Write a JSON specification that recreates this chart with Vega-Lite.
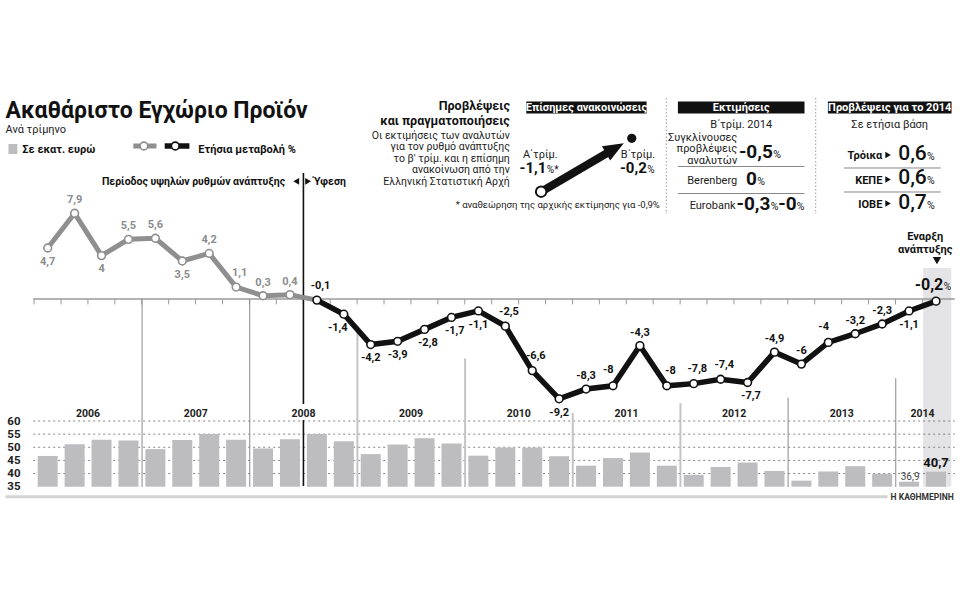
{
  "$schema": "https://vega.github.io/schema/vega-lite/v6.json",
  "width": 960,
  "height": 600,
  "autosize": "none",
  "padding": 0,
  "background": "white",
  "config": {
    "view": {"stroke": null},
    "font": "Roboto",
    "axis": {"domain": false, "ticks": false, "labels": false, "grid": false, "titleColor": "transparent", "titleFontSize": 1},
    "locale": {"number": {"decimal": ",", "thousands": ".", "grouping": [3], "currency": ["", " €"], "minus": "-"}}
  },
  "data": {
    "values": [
      {"i": 0, "year": "2006", "q": "Q1", "growth": 4.7, "gdp": 46.7},
      {"i": 1, "year": "2006", "q": "Q2", "growth": 7.9, "gdp": 51.2},
      {"i": 2, "year": "2006", "q": "Q3", "growth": 4, "gdp": 52.9},
      {"i": 3, "year": "2006", "q": "Q4", "growth": 5.5, "gdp": 52.6},
      {"i": 4, "year": "2007", "q": "Q1", "growth": 5.6, "gdp": 49.3},
      {"i": 5, "year": "2007", "q": "Q2", "growth": 3.5, "gdp": 52.8},
      {"i": 6, "year": "2007", "q": "Q3", "growth": 4.2, "gdp": 55.1},
      {"i": 7, "year": "2007", "q": "Q4", "growth": 1.1, "gdp": 52.9},
      {"i": 8, "year": "2008", "q": "Q1", "growth": 0.3, "gdp": 49.5},
      {"i": 9, "year": "2008", "q": "Q2", "growth": 0.4, "gdp": 53.1},
      {"i": 10, "year": "2008", "q": "Q3", "growth": -0.1, "gdp": 55.1},
      {"i": 11, "year": "2008", "q": "Q4", "growth": -1.4, "gdp": 52.3},
      {"i": 12, "year": "2009", "q": "Q1", "growth": -4.2, "gdp": 47.4},
      {"i": 13, "year": "2009", "q": "Q2", "growth": -3.9, "gdp": 51.1},
      {"i": 14, "year": "2009", "q": "Q3", "growth": -2.8, "gdp": 53.4},
      {"i": 15, "year": "2009", "q": "Q4", "growth": -1.7, "gdp": 51.4},
      {"i": 16, "year": "2010", "q": "Q1", "growth": -1.1, "gdp": 46.8},
      {"i": 17, "year": "2010", "q": "Q2", "growth": -2.5, "gdp": 49.9},
      {"i": 18, "year": "2010", "q": "Q3", "growth": -6.6, "gdp": 49.9},
      {"i": 19, "year": "2010", "q": "Q4", "growth": -9.2, "gdp": 46.6},
      {"i": 20, "year": "2011", "q": "Q1", "growth": -8.3, "gdp": 43.0},
      {"i": 21, "year": "2011", "q": "Q2", "growth": -8, "gdp": 45.9},
      {"i": 22, "year": "2011", "q": "Q3", "growth": -4.3, "gdp": 48.0},
      {"i": 23, "year": "2011", "q": "Q4", "growth": -8, "gdp": 43.0},
      {"i": 24, "year": "2012", "q": "Q1", "growth": -7.8, "gdp": 39.5},
      {"i": 25, "year": "2012", "q": "Q2", "growth": -7.4, "gdp": 42.5},
      {"i": 26, "year": "2012", "q": "Q3", "growth": -7.7, "gdp": 44.2},
      {"i": 27, "year": "2012", "q": "Q4", "growth": -4.9, "gdp": 41.0},
      {"i": 28, "year": "2013", "q": "Q1", "growth": -6, "gdp": 37.3},
      {"i": 29, "year": "2013", "q": "Q2", "growth": -4, "gdp": 40.8},
      {"i": 30, "year": "2013", "q": "Q3", "growth": -3.2, "gdp": 42.8},
      {"i": 31, "year": "2013", "q": "Q4", "growth": -2.3, "gdp": 39.9},
      {"i": 32, "year": "2014", "q": "Q1", "growth": -1.1, "gdp": 36.9},
      {"i": 33, "year": "2014", "q": "Q2", "growth": -0.2, "gdp": 40.7}
    ]
  },
  "layer": [
    {
      "layer": [
        {
          "data": {"values": [{}]},
          "mark": {"type": "rect", "color": "#e4e4e6"},
          "encoding": {
            "x": {"datum": 32.522, "type": "quantitative", "scale": {"domain": [0, 33], "range": [42.7, 941], "nice": false, "zero": false}, "axis": {"title": null}},
            "x2": {"datum": 33.569},
            "y": {"datum": 35, "type": "quantitative", "scale": {"domain": [35, 60], "range": [486.7, 421], "nice": false, "zero": false}},
            "y2": {"datum": 118.22}
          }
        },
        {
          "data": {"values": [{"v": 40}, {"v": 45}, {"v": 50}, {"v": 55}, {"v": 60}]},
          "mark": {"type": "rule", "color": "#666666", "strokeWidth": 0.8, "strokeDash": [2, 3]},
          "encoding": {
            "x": {"datum": -0.54},
            "x2": {"datum": 33.699},
            "y": {"field": "v", "type": "quantitative", "title": null}
          }
        },
        {
          "mark": {"type": "bar", "color": "#bdbdc0", "width": 20},
          "encoding": {
            "x": {"field": "i", "type": "quantitative", "title": null},
            "y": {"field": "gdp", "type": "quantitative", "title": null, "axis": {"orient": "left", "offset": -21, "labels": true, "values": [35, 40, 45, 50, 55, 60], "format": "d", "labelFontSize": 11.5, "labelFontWeight": "bold", "labelColor": "#222222", "labelPadding": 1, "labelOverlap": false, "labelFlush": false, "title": null}},
            "y2": {"datum": 35}
          }
        },
        {
          "transform": [{"filter": "datum.i == 32"}],
          "mark": {"type": "text", "fontSize": 10, "color": "#444444", "baseline": "alphabetic", "dy": -2, "dx": 1},
          "encoding": {
            "x": {"field": "i", "type": "quantitative", "title": null},
            "y": {"field": "gdp", "type": "quantitative", "title": null},
            "text": {"field": "gdp", "type": "quantitative", "format": "~g"}
          }
        },
        {
          "transform": [{"filter": "datum.i == 33"}],
          "mark": {"type": "text", "fontSize": 13, "fontWeight": "bold", "color": "#111111", "baseline": "alphabetic", "dy": -4.5},
          "encoding": {
            "x": {"field": "i", "type": "quantitative", "title": null},
            "y": {"field": "gdp", "type": "quantitative", "title": null},
            "text": {"field": "gdp", "type": "quantitative", "format": "~g"}
          }
        },
        {
          "transform": [{"aggregate": [{"op": "mean", "field": "i", "as": "mid"}], "groupby": ["year"]}],
          "mark": {"type": "text", "fontSize": 10.5, "fontWeight": "bold", "color": "#222222", "baseline": "alphabetic"},
          "encoding": {
            "x": {"field": "mid", "type": "quantitative", "title": null},
            "y": {"datum": 61.4},
            "text": {"field": "year", "type": "nominal"}
          }
        }
      ]
    },
    {
      "layer": [
        {
          "data": {"values": [{}]},
          "mark": {"type": "rule", "color": "#9a9a9a", "strokeWidth": 1.5},
          "encoding": {
            "x": {"datum": -0.54, "type": "quantitative", "scale": {"domain": [0, 33], "range": [42.7, 941], "nice": false, "zero": false}, "axis": {"title": null}},
            "x2": {"datum": 33.699},
            "y": {"datum": 0, "type": "quantitative", "scale": {"domain": [-10, 10], "range": [407.5, 190.5], "nice": false, "zero": false}, "axis": {"title": null}}
          }
        },
        {
          "mark": {"type": "rule", "color": "#9a9a9a", "strokeWidth": 1, "xOffset": -13.61},
          "encoding": {
            "x": {"field": "i", "type": "quantitative", "title": null},
            "y": {"datum": 0},
            "y2": {"datum": -0.5}
          }
        },
        {
          "transform": [
            {"filter": {"field": "year", "oneOf": ["2006", "2007"]}},
            {"aggregate": [{"op": "max", "field": "i", "as": "last"}], "groupby": ["year"]}
          ],
          "mark": {"type": "rule", "color": "#8a8a8a", "strokeWidth": 1, "xOffset": 13.61},
          "encoding": {
            "x": {"field": "last", "type": "quantitative", "title": null},
            "y": {"datum": 0},
            "y2": {"datum": -17.33}
          }
        },
        {
          "transform": [
            {"filter": {"field": "year", "oneOf": ["2008", "2009", "2010", "2011"]}},
            {"aggregate": [{"op": "max", "field": "i", "as": "last"}, {"op": "min", "field": "growth", "as": "low"}], "groupby": ["year"]}
          ],
          "mark": {"type": "rule", "color": "#c4c4c4", "strokeWidth": 2, "xOffset": 13.61, "yOffset": 14},
          "encoding": {
            "x": {"field": "last", "type": "quantitative", "title": null},
            "y": {"field": "low", "type": "quantitative", "title": null},
            "y2": {"datum": -17.33}
          }
        },
        {
          "transform": [
            {"filter": {"field": "year", "oneOf": ["2012", "2013"]}},
            {"aggregate": [{"op": "max", "field": "i", "as": "last"}, {"op": "min", "field": "growth", "as": "low"}], "groupby": ["year"]}
          ],
          "mark": {"type": "rule", "color": "#8a8a8a", "strokeWidth": 1, "xOffset": 13.61, "yOffset": 14},
          "encoding": {
            "x": {"field": "last", "type": "quantitative", "title": null},
            "y": {"field": "low", "type": "quantitative", "title": null},
            "y2": {"datum": -17.33}
          }
        },
        {
          "data": {"values": [{}]},
          "mark": {"type": "rule", "color": "#111111", "strokeWidth": 1.6},
          "encoding": {"x": {"datum": 9.5}, "y": {"datum": 11.613}, "y2": {"datum": -9.677}}
        },
        {
          "data": {"values": [{}]},
          "mark": {"type": "rule", "color": "#111111", "strokeWidth": 1.6},
          "encoding": {"x": {"datum": 9.5}, "y": {"datum": -11.152}, "y2": {"datum": -17.235}}
        },
        {
          "transform": [{"filter": "datum.i <= 10"}],
          "mark": {"type": "line", "color": "#8f8f8f", "strokeWidth": 5},
          "encoding": {"x": {"field": "i", "type": "quantitative", "title": null}, "y": {"field": "growth", "type": "quantitative", "title": null}}
        },
        {
          "transform": [{"filter": "datum.i >= 10"}],
          "mark": {"type": "line", "color": "#111111", "strokeWidth": 5.5},
          "encoding": {"x": {"field": "i", "type": "quantitative", "title": null}, "y": {"field": "growth", "type": "quantitative", "title": null}}
        },
        {
          "mark": {"type": "circle", "fill": "white", "fillOpacity": 1, "opacity": 1, "strokeWidth": 1.6, "size": 60},
          "encoding": {
            "x": {"field": "i", "type": "quantitative", "title": null},
            "y": {"field": "growth", "type": "quantitative", "title": null},
            "stroke": {"condition": {"test": "datum.i <= 9", "value": "#8f8f8f"}, "value": "#111111"}
          }
        },
        {
          "transform": [{"filter": {"field": "i", "oneOf": [1, 3, 4, 6, 8, 9, 20, 22, 27, 28, 30, 31]}}],
          "mark": {"type": "text", "fontSize": 11, "fontWeight": "bold", "baseline": "middle", "dy": -13},
          "encoding": {
            "x": {"field": "i", "type": "quantitative", "title": null},
            "y": {"field": "growth", "type": "quantitative", "title": null},
            "text": {"field": "growth", "type": "quantitative", "format": "~g"},
            "color": {"condition": {"test": "datum.i <= 9", "value": "#8c8c8c"}, "value": "#111111"}
          }
        },
        {
          "transform": [{"filter": {"field": "i", "oneOf": [7, 10, 17, 18, 23, 24, 25]}}],
          "mark": {"type": "text", "fontSize": 11, "fontWeight": "bold", "baseline": "middle", "dx": 3.6, "dy": -14.5},
          "encoding": {
            "x": {"field": "i", "type": "quantitative", "title": null},
            "y": {"field": "growth", "type": "quantitative", "title": null},
            "text": {"field": "growth", "type": "quantitative", "format": "~g"},
            "color": {"condition": {"test": "datum.i <= 9", "value": "#8c8c8c"}, "value": "#111111"}
          }
        },
        {
          "transform": [{"filter": {"field": "i", "oneOf": [21, 29]}}],
          "mark": {"type": "text", "fontSize": 11, "fontWeight": "bold", "baseline": "middle", "dx": -4.7, "dy": -15.7},
          "encoding": {
            "x": {"field": "i", "type": "quantitative", "title": null},
            "y": {"field": "growth", "type": "quantitative", "title": null},
            "text": {"field": "growth", "type": "quantitative", "format": "~g"},
            "color": {"value": "#111111"}
          }
        },
        {
          "transform": [{"filter": {"field": "i", "oneOf": [0, 2, 5, 12, 13, 16, 19, 32]}}],
          "mark": {"type": "text", "fontSize": 11, "fontWeight": "bold", "baseline": "middle", "dy": 13.7},
          "encoding": {
            "x": {"field": "i", "type": "quantitative", "title": null},
            "y": {"field": "growth", "type": "quantitative", "title": null},
            "text": {"field": "growth", "type": "quantitative", "format": "~g"},
            "color": {"condition": {"test": "datum.i <= 9", "value": "#8c8c8c"}, "value": "#111111"}
          }
        },
        {
          "transform": [{"filter": {"field": "i", "oneOf": [14, 15, 26]}}],
          "mark": {"type": "text", "fontSize": 11, "fontWeight": "bold", "baseline": "middle", "dx": 3.3, "dy": 13.2},
          "encoding": {
            "x": {"field": "i", "type": "quantitative", "title": null},
            "y": {"field": "growth", "type": "quantitative", "title": null},
            "text": {"field": "growth", "type": "quantitative", "format": "~g"},
            "color": {"value": "#111111"}
          }
        },
        {
          "transform": [{"filter": {"field": "i", "oneOf": [11]}}],
          "mark": {"type": "text", "fontSize": 11, "fontWeight": "bold", "baseline": "middle", "dx": -6, "dy": 14},
          "encoding": {
            "x": {"field": "i", "type": "quantitative", "title": null},
            "y": {"field": "growth", "type": "quantitative", "title": null},
            "text": {"field": "growth", "type": "quantitative", "format": "~g"},
            "color": {"value": "#111111"}
          }
        },
        {
          "transform": [{"filter": "datum.i == 33"}],
          "mark": {"type": "text", "fontSize": 16, "fontWeight": "bold", "align": "right", "baseline": "alphabetic", "dx": 7.3, "dy": -11.2, "color": "#111111"},
          "encoding": {
            "x": {"field": "i", "type": "quantitative", "title": null},
            "y": {"field": "growth", "type": "quantitative", "title": null},
            "text": {"field": "growth", "type": "quantitative", "format": "~g"}
          }
        },
        {"data": {"values": [{}]}, "mark": {"type": "text", "text": "%", "align": "left", "baseline": "alphabetic", "fontSize": 10, "color": "#111111"}, "encoding": {"x": {"datum": 33.287}, "y": {"datum": 0.829}}},

        {"data": {"values": [{}]}, "mark": {"type": "text", "text": "Ακαθάριστο Εγχώριο Προϊόν", "align": "left", "baseline": "alphabetic", "fontSize": 23, "fontWeight": "bold", "color": "#111111"}, "encoding": {"x": {"datum": -1.5686}, "y": {"datum": 16.682}}},
        {"data": {"values": [{}]}, "mark": {"type": "text", "text": "Ανά τρίμηνο", "align": "left", "baseline": "alphabetic", "fontSize": 11, "color": "#222222"}, "encoding": {"x": {"datum": -1.5686}, "y": {"datum": 15.3}}},
        {"data": {"values": [{}]}, "mark": {"type": "rect", "color": "#bdbdc0"}, "encoding": {"x": {"datum": -1.4584}, "x2": {"datum": -1.1278}, "y": {"datum": 14.286}, "y2": {"datum": 13.364}}},
        {"data": {"values": [{}]}, "mark": {"type": "text", "text": "Σε εκατ. ευρώ", "align": "left", "baseline": "alphabetic", "fontSize": 11, "fontWeight": "bold", "color": "#111111"}, "encoding": {"x": {"datum": -0.9441}, "y": {"datum": 13.456}}},
        {"data": {"values": [{}]}, "mark": {"type": "rule", "color": "#8f8f8f", "strokeWidth": 5}, "encoding": {"x": {"datum": 3.181}, "x2": {"datum": 4.041}, "y": {"datum": 14.101}}},
        {"data": {"values": [{}]}, "mark": {"type": "circle", "fill": "white", "fillOpacity": 1, "stroke": "#8f8f8f", "strokeWidth": 1.6, "size": 60}, "encoding": {"x": {"datum": 3.574}, "y": {"datum": 14.101}}},
        {"data": {"values": [{}]}, "mark": {"type": "rule", "color": "#111111", "strokeWidth": 5.5}, "encoding": {"x": {"datum": 4.346}, "x2": {"datum": 5.265}, "y": {"datum": 14.101}}},
        {"data": {"values": [{}]}, "mark": {"type": "circle", "fill": "white", "fillOpacity": 1, "stroke": "#111111", "strokeWidth": 1.6, "size": 60}, "encoding": {"x": {"datum": 4.739}, "y": {"datum": 14.101}}},
        {"data": {"values": [{}]}, "mark": {"type": "text", "text": "Ετήσια μεταβολή %", "align": "left", "baseline": "alphabetic", "fontSize": 11, "fontWeight": "bold", "color": "#111111"}, "encoding": {"x": {"datum": 5.595}, "y": {"datum": 13.456}}},
        {"data": {"values": [{}]}, "mark": {"type": "text", "text": "Περίοδος υψηλών ρυθμών ανάπτυξης", "align": "right", "baseline": "alphabetic", "fontSize": 10.5, "fontWeight": "bold", "color": "#111111"}, "encoding": {"x": {"datum": 8.817}, "y": {"datum": 10.507}}},
        {"data": {"values": [{}]}, "mark": {"type": "point", "shape": "triangle-left", "filled": true, "color": "#111111", "size": 45, "opacity": 1}, "encoding": {"x": {"datum": 9.232}, "y": {"datum": 10.848}}},
        {"data": {"values": [{}]}, "mark": {"type": "point", "shape": "triangle-right", "filled": true, "color": "#111111", "size": 45, "opacity": 1}, "encoding": {"x": {"datum": 9.673}, "y": {"datum": 10.848}}},
        {"data": {"values": [{}]}, "mark": {"type": "text", "text": "Ύφεση", "align": "left", "baseline": "alphabetic", "fontSize": 10.5, "fontWeight": "bold", "color": "#111111"}, "encoding": {"x": {"datum": 9.875}, "y": {"datum": 10.507}}},

        {"data": {"values": [{}]}, "mark": {"type": "text", "text": "Προβλέψεις", "align": "right", "baseline": "alphabetic", "fontSize": 12.5, "fontWeight": "bold", "color": "#111111"}, "encoding": {"x": {"datum": 17.167}, "y": {"datum": 17.419}}},
        {"data": {"values": [{}]}, "mark": {"type": "text", "text": "και πραγματοποιήσεις", "align": "right", "baseline": "alphabetic", "fontSize": 12.5, "fontWeight": "bold", "color": "#111111"}, "encoding": {"x": {"datum": 17.167}, "y": {"datum": 16.037}}},
        {"data": {"values": [{}]}, "mark": {"type": "text", "text": ["Οι εκτιμήσεις των αναλυτών", "για τον ρυθμό ανάπτυξης", "το β' τρίμ. και η επίσημη", "ανακοίνωση από την", "Ελληνική Στατιστική Αρχή"], "lineHeight": 11.4, "align": "right", "baseline": "alphabetic", "fontSize": 10.5, "color": "#222222"}, "encoding": {"x": {"datum": 17.167}, "y": {"datum": 14.747}}},
        {"data": {"values": [{}]}, "mark": {"type": "rect", "color": "#111111"}, "encoding": {"x": {"datum": 17.78}, "x2": {"datum": 22.248}, "y": {"datum": 18.203}, "y2": {"datum": 17.097}}},
        {"data": {"values": [{}]}, "mark": {"type": "text", "text": "Επίσημες ανακοινώσεις", "align": "center", "baseline": "alphabetic", "fontSize": 11, "fontWeight": "bold", "color": "white"}, "encoding": {"x": {"datum": 20.014}, "y": {"datum": 17.327}}},
        {"data": {"values": [{}]}, "mark": {"type": "rule", "color": "#111111", "strokeWidth": 8}, "encoding": {"x": {"datum": 18.331}, "x2": {"datum": 20.914}, "y": {"datum": 9.889}, "y2": {"datum": 13.641}}},
        {"data": {"values": [{}]}, "mark": {"type": "point", "shape": "M-1,-0.8L1,0L-1,0.8Z", "filled": true, "color": "#111111", "size": 420, "angle": -30, "opacity": 1}, "encoding": {"x": {"datum": 21.072}, "y": {"datum": 13.889}}},
        {"data": {"values": [{}]}, "mark": {"type": "circle", "fill": "white", "fillOpacity": 1, "stroke": "#111111", "strokeWidth": 2, "size": 110}, "encoding": {"x": {"datum": 18.331}, "y": {"datum": 9.889}}},
        {"data": {"values": [{}]}, "mark": {"type": "circle", "color": "#111111", "opacity": 1, "size": 85}, "encoding": {"x": {"datum": 21.697}, "y": {"datum": 14.811}}},
        {"data": {"values": [{}]}, "mark": {"type": "text", "text": "Α΄τρίμ.", "align": "center", "baseline": "alphabetic", "fontSize": 11, "color": "#222222"}, "encoding": {"x": {"datum": 18.298}, "y": {"datum": 13.041}}},
        {"data": {"values": [{}]}, "mark": {"type": "text", "text": "-1,1", "align": "right", "baseline": "alphabetic", "fontSize": 15, "fontWeight": "bold", "color": "#111111"}, "encoding": {"x": {"datum": 18.526}, "y": {"datum": 11.585}}},
        {"data": {"values": [{}]}, "mark": {"type": "text", "text": "%*", "align": "left", "baseline": "alphabetic", "fontSize": 10, "color": "#111111"}, "encoding": {"x": {"datum": 18.544}, "y": {"datum": 11.585}}},
        {"data": {"values": [{}]}, "mark": {"type": "text", "text": "Β΄τρίμ.", "align": "right", "baseline": "alphabetic", "fontSize": 11, "color": "#222222"}, "encoding": {"x": {"datum": 22.567}, "y": {"datum": 13.041}}},
        {"data": {"values": [{}]}, "mark": {"type": "text", "text": "-0,2", "align": "right", "baseline": "alphabetic", "fontSize": 15, "fontWeight": "bold", "color": "#111111"}, "encoding": {"x": {"datum": 22.255}, "y": {"datum": 11.585}}},
        {"data": {"values": [{}]}, "mark": {"type": "text", "text": "%", "align": "left", "baseline": "alphabetic", "fontSize": 10, "color": "#111111"}, "encoding": {"x": {"datum": 22.273}, "y": {"datum": 11.585}}},
        {"data": {"values": [{}]}, "mark": {"type": "text", "text": "* αναθεώρηση της αρχικής εκτίμησης για -0,9%", "align": "right", "baseline": "alphabetic", "fontSize": 9.5, "color": "#222222"}, "encoding": {"x": {"datum": 22.74}, "y": {"datum": 8.433}}},
        {"data": {"values": [{}]}, "mark": {"type": "rule", "color": "#aaaaaa", "strokeWidth": 1.2, "strokeDash": [1.5, 2]}, "encoding": {"x": {"datum": 22.982}, "y": {"datum": 18.525}, "y2": {"datum": 7.834}}},
        {"data": {"values": [{}]}, "mark": {"type": "rule", "color": "#aaaaaa", "strokeWidth": 1.2, "strokeDash": [1.5, 2]}, "encoding": {"x": {"datum": 28.529}, "y": {"datum": 18.525}, "y2": {"datum": 7.834}}},

        {"data": {"values": [{}]}, "mark": {"type": "rect", "color": "#111111"}, "encoding": {"x": {"datum": 23.412}, "x2": {"datum": 28.115}, "y": {"datum": 18.203}, "y2": {"datum": 17.097}}},
        {"data": {"values": [{}]}, "mark": {"type": "text", "text": "Εκτιμήσεις", "align": "center", "baseline": "alphabetic", "fontSize": 11, "fontWeight": "bold", "color": "white"}, "encoding": {"x": {"datum": 25.763}, "y": {"datum": 17.327}}},
        {"data": {"values": [{}]}, "mark": {"type": "text", "text": "Β΄τρίμ. 2014", "align": "center", "baseline": "alphabetic", "fontSize": 11, "color": "#222222"}, "encoding": {"x": {"datum": 25.763}, "y": {"datum": 15.76}}},
        {"data": {"values": [{}]}, "mark": {"type": "text", "text": ["Συγκλίνουσες", "προβλέψεις", "αναλυτών"], "lineHeight": 11.3, "align": "right", "baseline": "alphabetic", "fontSize": 11, "color": "#222222"}, "encoding": {"x": {"datum": 25.616}, "y": {"datum": 14.562}}},
        {"data": {"values": [{}]}, "mark": {"type": "text", "text": "-0,5", "align": "right", "baseline": "alphabetic", "fontSize": 19, "fontWeight": "bold", "color": "#111111"}, "encoding": {"x": {"datum": 26.939}, "y": {"datum": 12.995}}},
        {"data": {"values": [{}]}, "mark": {"type": "text", "text": "%", "align": "left", "baseline": "alphabetic", "fontSize": 10.5, "color": "#111111"}, "encoding": {"x": {"datum": 26.95}, "y": {"datum": 12.995}}},
        {"data": {"values": [{}]}, "mark": {"type": "rule", "color": "#888888", "strokeWidth": 1}, "encoding": {"x": {"datum": 23.412}, "x2": {"datum": 28.115}, "y": {"datum": 12.212}}},
        {"data": {"values": [{}]}, "mark": {"type": "text", "text": "Berenberg", "align": "right", "baseline": "alphabetic", "fontSize": 11, "color": "#222222"}, "encoding": {"x": {"datum": 25.616}, "y": {"datum": 10.645}}},
        {"data": {"values": [{}]}, "mark": {"type": "text", "text": "0", "align": "right", "baseline": "alphabetic", "fontSize": 19, "fontWeight": "bold", "color": "#111111"}, "encoding": {"x": {"datum": 26.351}, "y": {"datum": 10.507}}},
        {"data": {"values": [{}]}, "mark": {"type": "text", "text": "%", "align": "left", "baseline": "alphabetic", "fontSize": 10.5, "color": "#111111"}, "encoding": {"x": {"datum": 26.362}, "y": {"datum": 10.507}}},
        {"data": {"values": [{}]}, "mark": {"type": "rule", "color": "#888888", "strokeWidth": 1}, "encoding": {"x": {"datum": 23.412}, "x2": {"datum": 28.115}, "y": {"datum": 9.724}}},
        {"data": {"values": [{}]}, "mark": {"type": "text", "text": "Eurobank", "align": "right", "baseline": "alphabetic", "fontSize": 11, "color": "#222222"}, "encoding": {"x": {"datum": 25.554}, "y": {"datum": 8.341}}},
        {"data": {"values": [{}]}, "mark": {"type": "text", "text": "-0,3", "align": "right", "baseline": "alphabetic", "fontSize": 19, "fontWeight": "bold", "color": "#111111"}, "encoding": {"x": {"datum": 26.847}, "y": {"datum": 8.203}}},
        {"data": {"values": [{}]}, "mark": {"type": "text", "text": "%", "align": "left", "baseline": "alphabetic", "fontSize": 10.5, "color": "#111111"}, "encoding": {"x": {"datum": 26.858}, "y": {"datum": 8.203}}},
        {"data": {"values": [{}]}, "mark": {"type": "text", "text": "-0", "align": "right", "baseline": "alphabetic", "fontSize": 19, "fontWeight": "bold", "color": "#111111"}, "encoding": {"x": {"datum": 27.82}, "y": {"datum": 8.203}}},
        {"data": {"values": [{}]}, "mark": {"type": "text", "text": "%", "align": "left", "baseline": "alphabetic", "fontSize": 10.5, "color": "#111111"}, "encoding": {"x": {"datum": 27.831}, "y": {"datum": 8.203}}},

        {"data": {"values": [{}]}, "mark": {"type": "rect", "color": "#111111"}, "encoding": {"x": {"datum": 28.985}, "x2": {"datum": 33.577}, "y": {"datum": 18.203}, "y2": {"datum": 17.097}}},
        {"data": {"values": [{}]}, "mark": {"type": "text", "text": "Προβλέψεις για το 2014", "align": "center", "baseline": "alphabetic", "fontSize": 11, "fontWeight": "bold", "color": "white"}, "encoding": {"x": {"datum": 31.281}, "y": {"datum": 17.327}}},
        {"data": {"values": [{}]}, "mark": {"type": "text", "text": "Σε ετήσια βάση", "align": "center", "baseline": "alphabetic", "fontSize": 11, "color": "#222222"}, "encoding": {"x": {"datum": 31.281}, "y": {"datum": 15.76}}},
        {"data": {"values": [{}]}, "mark": {"type": "text", "text": "Τρόικα", "align": "right", "baseline": "alphabetic", "fontSize": 11, "fontWeight": "bold", "color": "#111111"}, "encoding": {"x": {"datum": 31.006}, "y": {"datum": 12.903}}},
        {"data": {"values": [{}]}, "mark": {"type": "text", "text": "ΚΕΠΕ", "align": "right", "baseline": "alphabetic", "fontSize": 11, "fontWeight": "bold", "color": "#111111"}, "encoding": {"x": {"datum": 31.006}, "y": {"datum": 10.645}}},
        {"data": {"values": [{}]}, "mark": {"type": "text", "text": "ΙΟΒΕ", "align": "right", "baseline": "alphabetic", "fontSize": 11, "fontWeight": "bold", "color": "#111111"}, "encoding": {"x": {"datum": 31.006}, "y": {"datum": 8.433}}},
        {"data": {"values": [{}]}, "mark": {"type": "point", "shape": "triangle-right", "filled": true, "color": "#111111", "size": 40, "opacity": 1}, "encoding": {"x": {"datum": 31.219}, "y": {"datum": 13.272}}},
        {"data": {"values": [{}]}, "mark": {"type": "point", "shape": "triangle-right", "filled": true, "color": "#111111", "size": 40, "opacity": 1}, "encoding": {"x": {"datum": 31.219}, "y": {"datum": 11.014}}},
        {"data": {"values": [{}]}, "mark": {"type": "point", "shape": "triangle-right", "filled": true, "color": "#111111", "size": 40, "opacity": 1}, "encoding": {"x": {"datum": 31.219}, "y": {"datum": 8.802}}},
        {"data": {"values": [{}]}, "mark": {"type": "text", "text": "0,6", "align": "right", "baseline": "alphabetic", "fontSize": 21, "fontWeight": 500, "color": "#111111"}, "encoding": {"x": {"datum": 32.659}, "y": {"datum": 12.811}}},
        {"data": {"values": [{}]}, "mark": {"type": "text", "text": "0,6", "align": "right", "baseline": "alphabetic", "fontSize": 21, "fontWeight": 500, "color": "#111111"}, "encoding": {"x": {"datum": 32.659}, "y": {"datum": 10.553}}},
        {"data": {"values": [{}]}, "mark": {"type": "text", "text": "0,7", "align": "right", "baseline": "alphabetic", "fontSize": 21, "fontWeight": 500, "color": "#111111"}, "encoding": {"x": {"datum": 32.659}, "y": {"datum": 8.341}}},
        {"data": {"values": [{}]}, "mark": {"type": "text", "text": "%", "align": "left", "baseline": "alphabetic", "fontSize": 10.5, "color": "#111111"}, "encoding": {"x": {"datum": 32.67}, "y": {"datum": 12.811}}},
        {"data": {"values": [{}]}, "mark": {"type": "text", "text": "%", "align": "left", "baseline": "alphabetic", "fontSize": 10.5, "color": "#111111"}, "encoding": {"x": {"datum": 32.67}, "y": {"datum": 10.553}}},
        {"data": {"values": [{}]}, "mark": {"type": "text", "text": "%", "align": "left", "baseline": "alphabetic", "fontSize": 10.5, "color": "#111111"}, "encoding": {"x": {"datum": 32.67}, "y": {"datum": 8.341}}},
        {"data": {"values": [{}]}, "mark": {"type": "rule", "color": "#888888", "strokeWidth": 1}, "encoding": {"x": {"datum": 29.584}, "x2": {"datum": 33.184}, "y": {"datum": 12.074}}},
        {"data": {"values": [{}]}, "mark": {"type": "rule", "color": "#888888", "strokeWidth": 1}, "encoding": {"x": {"datum": 29.584}, "x2": {"datum": 33.184}, "y": {"datum": 9.862}}},

        {"data": {"values": [{}]}, "mark": {"type": "text", "text": ["Εναρξη", "ανάπτυξης"], "lineHeight": 13, "align": "center", "baseline": "alphabetic", "fontSize": 11, "fontWeight": "bold", "color": "#111111"}, "encoding": {"x": {"datum": 32.6}, "y": {"datum": 5.438}}},
        {"data": {"values": [{}]}, "mark": {"type": "point", "shape": "triangle-down", "filled": true, "color": "#111111", "size": 70, "opacity": 1}, "encoding": {"x": {"datum": 33.036}, "y": {"datum": 3.548}}},
        {"data": {"values": [{}]}, "mark": {"type": "rule", "color": "#d3d3d3", "strokeWidth": 3}, "encoding": {"x": {"datum": -1.5686}, "x2": {"datum": 31.2}, "y": {"datum": -18.221}}},
        {"data": {"values": [{}]}, "mark": {"type": "text", "text": "Η ΚΑΘΗΜΕΡΙΝΗ", "align": "right", "baseline": "middle", "fontSize": 8.5, "fontWeight": "bold", "color": "#333333"}, "encoding": {"x": {"datum": 33.662}, "y": {"datum": -18.221}}}
      ]
    }
  ],
  "resolve": {"scale": {"y": "independent"}}
}
